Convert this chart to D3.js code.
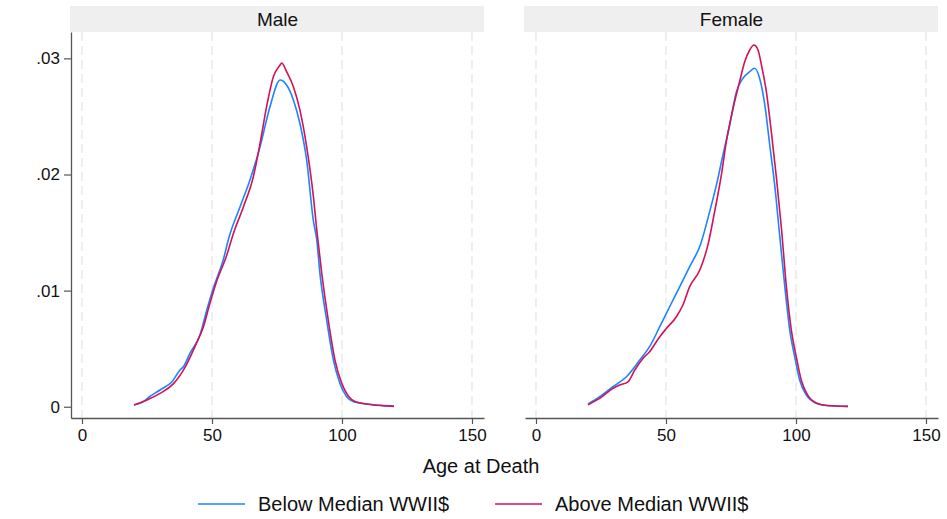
<!DOCTYPE html>
<html>
<head>
<meta charset="utf-8">
<script src="https://cdn.jsdelivr.net/npm/d3@7"></script>
<style>
  body { margin: 0; background: #fff; }
  text { font-family: "Liberation Sans", Arial, Helvetica, sans-serif; fill: #111; }
</style>
</head>
<body>
<div id="container"></div>
<script>
var w = 947,
  h = 519;

// kernel density of age at death
var maleBelowAge = [20, 23.5, 26, 30, 34.6, 37.7, 39, 41.5, 45.4, 48, 50.5, 54.3, 56.6, 60.8, 64.6, 68.5, 72.3, 76.2, 78.7, 81.3, 83.8, 86.4, 89, 90.3, 91.5, 94.1, 96.7, 99.2, 101.8, 104.4, 109.5, 115, 120];
var maleBelowVal = [0.00015, 0.00043, 0.00086, 0.00144, 0.00215, 0.00316, 0.00345, 0.0046, 0.0062, 0.00833, 0.0102, 0.01263, 0.01464, 0.01723, 0.01953, 0.0224, 0.02584, 0.02814, 0.0277, 0.02642, 0.02441, 0.02125, 0.0160, 0.01436, 0.0115, 0.00747, 0.00402, 0.00201, 0.00086, 0.00043, 0.00023, 0.00012, 0.00006];

var maleAboveAge = [20, 25, 30, 35, 40, 44, 46.7, 49.2, 51.8, 55.6, 58.2, 62.1, 65.9, 68.5, 71, 73.6, 76.2, 76.8, 78.7, 81.3, 83.8, 86.4, 89, 90.3, 92.2, 94.7, 97.3, 99.9, 102.5, 105, 110, 115, 120];
var maleAboveVal = [0.00015, 0.00058, 0.00115, 0.00195, 0.00355, 0.00546, 0.00689, 0.0089, 0.0108, 0.0130, 0.0149, 0.01723, 0.01981, 0.02269, 0.02584, 0.02842, 0.02943, 0.0296, 0.02886, 0.02756, 0.02556, 0.0224, 0.01809, 0.01522, 0.0115, 0.00747, 0.00402, 0.00201, 0.0009, 0.00045, 0.00022, 0.0001, 0.00003];

var femaleBelowAge = [20, 24.5, 29.6, 34.8, 39.9, 43.7, 47.6, 51.4, 55.3, 59.1, 63.3, 66.8, 69.4, 71.9, 74.5, 77.1, 79.6, 82.2, 84.1, 86, 88, 89.9, 91.8, 93.7, 95.7, 97.6, 99.5, 101.4, 104, 107.8, 111.7, 120];
var femaleBelowVal = [0.00023, 0.00086, 0.00172, 0.00258, 0.00402, 0.00517, 0.00689, 0.00861, 0.01034, 0.01206, 0.0140, 0.0168, 0.0191, 0.02168, 0.02426, 0.02713, 0.02829, 0.02885, 0.02915, 0.02829, 0.02599, 0.02254, 0.0191, 0.01479, 0.01034, 0.0066, 0.0043, 0.0023, 0.001, 0.0003, 0.0001, 0.00003];

var femaleAboveAge = [20, 24.5, 29.6, 32.2, 35.4, 38, 41.2, 43.7, 47.6, 50.2, 54, 56.5, 59.1, 63, 66.2, 68.7, 71.3, 73.2, 75.8, 78.3, 80.3, 82.2, 83.8, 85.4, 86.7, 88.6, 90.5, 92.5, 94.4, 96.3, 98.2, 100.2, 102, 104.5, 108, 112, 120];
var femaleAboveVal = [0.00017, 0.00072, 0.00158, 0.00187, 0.00215, 0.00316, 0.00417, 0.00474, 0.00603, 0.00675, 0.00775, 0.00876, 0.01034, 0.01177, 0.0140, 0.0168, 0.01996, 0.02282, 0.0257, 0.02799, 0.02972, 0.03072, 0.03115, 0.03072, 0.02943, 0.02713, 0.02369, 0.01967, 0.01537, 0.01034, 0.0066, 0.0042, 0.0023, 0.001, 0.0003, 0.0001, 0.00003];

var panels = ["Male", "Female"];
var seriesNames = ["Below Median WWII$", "Above Median WWII$"];
var colors = ["#1a85ff", "#d41159"];
var xTicks = [0, 50, 100, 150];
var yTicks = [0, 0.01, 0.02, 0.03];

var panelData = [
  [d3.zip(maleBelowAge, maleBelowVal), d3.zip(maleAboveAge, maleAboveVal)],
  [d3.zip(femaleBelowAge, femaleBelowVal), d3.zip(femaleAboveAge, femaleAboveVal)]
];

var svg = d3.select("#container").append("svg")
  .attr("width", w)
  .attr("height", h);

var panelLeft = [71, 525],
  pw = 413,
  plotTop = 32,
  ph = 386;

var x = d3.scaleLinear()
  .domain([-11 / 2.6, 150 + 12 / 2.6])
  .range([0, pw]);

var y = d3.scaleLinear()
  .domain([-0.00097, 0.03227])
  .range([ph, 0]);

var line = d3.line()
  .x(d => x(d[0]))
  .y(d => y(d[1]))
  .curve(d3.curveMonotoneX);

panels.forEach(function (name, i) {
  var g = svg.append("g")
    .attr("transform", "translate(" + panelLeft[i] + "," + plotTop + ")");

  // strip header
  g.append("rect")
    .attr("x", -1)
    .attr("y", -26)
    .attr("width", pw + 1)
    .attr("height", 26)
    .attr("fill", "#efefef");
  g.append("text")
    .attr("x", pw / 2)
    .attr("y", -6)
    .attr("text-anchor", "middle")
    .style("font-size", "19px")
    .text(name);

  // dashed vertical grid
  g.selectAll(".grid")
    .data(xTicks)
    .enter()
    .append("line")
    .attr("class", "grid")
    .attr("x1", d => x(d))
    .attr("x2", d => x(d))
    .attr("y1", 0)
    .attr("y2", ph)
    .attr("stroke", "#e6e6e6")
    .attr("stroke-width", 1.3)
    .attr("stroke-dasharray", "9,5");

  panelData[i].forEach(function (s, j) {
    g.append("path")
      .datum(s)
      .attr("fill", "none")
      .attr("stroke", colors[j])
      .attr("stroke-width", 1.6)
      .attr("d", line);
  });

  var xa = g.append("g")
    .attr("transform", "translate(0," + ph + ")")
    .call(d3.axisBottom(x)
      .tickValues(xTicks)
      .tickSize(6)
      .tickSizeOuter(0)
      .tickPadding(5)
      .tickFormat(d3.format("d")));
  xa.select(".domain").attr("stroke", "#555").attr("stroke-width", 1.3);
  xa.selectAll(".tick line").attr("stroke", "#555").attr("stroke-width", 1.2);
  xa.selectAll("text").style("font-size", "17px").attr("fill", "#111");

  if (i === 0) {
    var ya = g.append("g")
      .call(d3.axisLeft(y)
        .tickValues(yTicks)
        .tickSize(7)
        .tickSizeOuter(0)
        .tickPadding(4)
        .tickFormat(d => d === 0 ? "0" : d3.format(".2f")(d).replace(/^0/, "")));
    ya.select(".domain").attr("stroke", "#555").attr("stroke-width", 1.3);
    ya.selectAll(".tick line").attr("stroke", "#555").attr("stroke-width", 1.2);
    ya.selectAll("text").style("font-size", "17px").attr("fill", "#111");
  }
});

svg.append("text")
  .attr("x", 481)
  .attr("y", 473)
  .attr("text-anchor", "middle")
  .style("font-size", "20px")
  .text("Age at Death");

var legX = [198, 495];
seriesNames.forEach(function (name, j) {
  var lg = svg.append("g")
    .attr("transform", "translate(" + legX[j] + ",504)");
  lg.append("line")
    .attr("x1", 0)
    .attr("x2", 47)
    .attr("stroke", colors[j])
    .attr("stroke-width", 1.6);
  lg.append("text")
    .attr("x", 60)
    .attr("y", 7)
    .style("font-size", "20px")
    .text(name);
});
</script>
</body>
</html>
